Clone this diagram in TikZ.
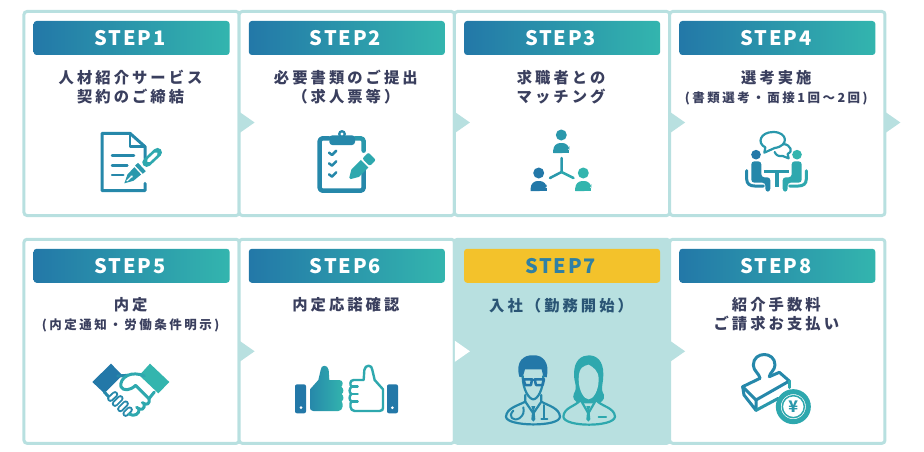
\documentclass[tikz,border=0pt]{standalone}
\usepackage{fontspec}
\setmainfont{Noto Sans CJK JP}
\newfontfamily\jpfont[LetterSpace=20]{Noto Sans CJK JP}
\newfontfamily\stepfont[LetterSpace=9]{Noto Sans CJK JP}
\usepackage{xcolor}
\usetikzlibrary{positioning,shapes.geometric}

\definecolor{cardline}{HTML}{B8E0E0}
\definecolor{labelink}{HTML}{3A3F5E}
\definecolor{sevenink}{HTML}{2A5575}
\definecolor{sevenbar}{HTML}{F3C22B}
\definecolor{sevenstep}{HTML}{2F80A4}
\definecolor{gA}{HTML}{2378A8}
\definecolor{gB}{HTML}{2688AA}
\definecolor{gC}{HTML}{2A98AC}
\definecolor{gD}{HTML}{2EA8AE}
\definecolor{gE}{HTML}{33B5AE}

\tikzset{
    card/.style={draw=cardline, line width=3pt, fill=white, rounded corners=3pt, outer sep=0pt,
        minimum width=215.25pt, minimum height=204pt, inner sep=0pt},
    stepbar/.style={rounded corners=3pt, minimum width=196pt, minimum height=34pt, inner sep=0pt, outer sep=0pt,
        left color=gA, right color=gE, text=white, font=\stepfont\fontsize{20}{20}\selectfont\bfseries,
        execute at begin node=\hspace*{-3pt}},
    steplabel/.style={align=center, inner sep=0pt, outer sep=0pt, text=labelink, xshift=-1pt,
        font=\jpfont\fontsize{15.3}{19}\selectfont\bfseries},
    pointer/.style={isosceles triangle, isosceles triangle apex angle=70, fill=cardline, inner sep=0pt, outer sep=0pt,
        minimum height=15pt, minimum width=21pt, isosceles triangle stretches, anchor=lower side},
    ic/.style={line width=#1, line cap=round, line join=round},
    finger/.style={line width=6.4pt, line cap=round, gB},
    fingerhole/.style={line width=2.6pt, line cap=round, white},
    person/.pic={
        \fill (0,0) circle (5.5);
        \fill[rounded corners=7] (-8,18) -- (-8,8) -- (8,8) -- (8,18) [sharp corners] -- cycle;
        \fill (-8,15) rectangle (8,18);
    }
}
\newcommand{\smalljp}{\fontsize{12.5}{19}\selectfont}
\newcommand{\thumbpath}{(60,100) -- (85,72) -- (92,42) .. controls (92,25) and (114,25) .. (116,42) -- (118,72) -- (148,72)
    .. controls (160,72) and (160,88) .. (154,92) .. controls (162,98) and (162,110) .. (155,114)
    .. controls (162,120) and (162,132) .. (155,136) .. controls (160,142) and (160,165) .. (145,165) -- (70,165)
    .. controls (62,165) and (60,160) .. (60,155) -- cycle}

\begin{document}
\begin{tikzpicture}[x=1pt, y=-1pt]
    \useasboundingbox (0,0) rectangle (924,452);

    % cards, first row
    \node[card] (card1) at (131.6,113.5) {};
    \node[card, right=0pt of card1] (card2) {};
    \node[card, right=0pt of card2] (card3) {};
    \node[card, right=0pt of card3] (card4) {};
    % cards, second row
    \node[card] (card5) at (131.6,341.3) {};
    \node[card, right=0pt of card5] (card6) {};
    \node[card, fill=cardline, right=0pt of card6] (card7) {};
    \node[card, right=0pt of card7] (card8) {};

    \node[stepbar, below=9.5pt of card1.north] (bar1) {STEP1};
    \node[stepbar, below=9.5pt of card2.north] (bar2) {STEP2};
    \node[stepbar, below=9.5pt of card3.north] (bar3) {STEP3};
    \node[stepbar, below=9.5pt of card4.north] (bar4) {STEP4};
    \node[stepbar, below=9.5pt of card5.north] (bar5) {STEP5};
    \node[stepbar, below=9.5pt of card6.north] (bar6) {STEP6};
    \node[stepbar, below=9.5pt of card7.north, left color=sevenbar, right color=sevenbar, text=sevenstep] (bar7) {STEP7};
    \node[stepbar, below=9.5pt of card8.north] (bar8) {STEP8};

    \node[steplabel, below=15pt of bar1] (label1) {人材紹介サービス\\契約のご締結};
    \node[steplabel, below=15pt of bar2] (label2) {必要書類のご提出\\（求人票等）};
    \node[steplabel, below=15pt of bar3] (label3) {求職者との\\マッチング};
    \node[steplabel, below=15pt of bar4] (label4) {選考実施\\{\smalljp (書類選考・面接1回～2回)}};
    \node[steplabel, below=15pt of bar5] (label5) {内定\\{\smalljp (内定通知・労働条件明示)}};
    \node[steplabel, below=15pt of bar6] (label6) {内定応諾確認};
    \node[steplabel, below=15pt of bar7, text=sevenink] (label7) {入社（勤務開始）};
    \node[steplabel, below=15pt of bar8] (label8) {紹介手数料\\ご請求お支払い};

    \node[pointer] (pointer1) at (239.6,122.5) {};
    \node[pointer] (pointer2) at (454.9,122.5) {};
    \node[pointer] (pointer3) at (670.1,122.5) {};
    \node[pointer] (pointer4) at (885.4,122.5) {};
    \node[pointer] (pointer5) at (239.6,351.3) {};
    \node[pointer, fill=white] (pointer6) at (454.9,351.3) {};
    \node[pointer] (pointer7) at (670.1,351.3) {};

    % document and pen
    \begin{scope}[shift={(90,120)}, scale=1/3]
        \draw[ic=3pt, gB] (165,115) -- (165,80) -- (120,40) -- (36,40) -- (36,212) -- (165,212) -- (165,190);
        \draw[ic=2.5pt, gB] (120,42) -- (120,80) -- (165,80);
        \draw[ic=2.5pt, gB] (66,107) -- (132,107);
        \draw[ic=2.5pt, gB] (66,137) -- (112,137);
        \draw[ic=2.5pt, gB] (66,165) -- (100,165);
        \begin{scope}[shift={(103,190)}, rotate=43]
            \fill[gC] (0,0) -- (25,-13) -- (55,-15) -- (55,15) -- (25,13) -- cycle;
            \draw[white, line width=1.2pt] (10,0) -- (30,0);
            \fill[white] (30,0) circle (4);
            \fill[gC] (60,-17) rectangle (72,17);
            \draw[ic=9pt, gD] (92,0) -- (136,0);
            \draw[ic=3.5pt, white] (100,0) -- (130,0);
        \end{scope}
    \end{scope}

    % clipboard and pencil
    \begin{scope}[shift={(305,120)}, scale=1/3]
        \draw[ic=4.5pt, gB, rounded corners=3pt] (72,55) -- (44,55) -- (44,212) -- (176,212) -- (176,150);
        \draw[ic=4.5pt, gC, rounded corners=3pt] (150,55) -- (176,55) -- (176,92);
        \fill[gB, rounded corners=3pt] (73,46) rectangle (150,75);
        \fill[gB] (111,42) circle (12);
        \fill[white] (111,42) circle (5);
        \draw[ic=2.5pt, gB] (72,98) -- (81,105) -- (94,92);
        \draw[ic=2.5pt, gB] (72,130) -- (81,137) -- (94,124);
        \draw[ic=2.5pt, gB] (72,163) -- (81,170) -- (94,157);
        \begin{scope}[shift={(135,175)}, rotate=45]
            \fill[gD] (0,-3) -- (22,-16) -- (62,-16) -- (62,16) -- (22,16) -- (0,3) -- cycle;
            \fill[gD, rounded corners=2pt] (68,-16) -- (94,-16) -- (94,16) -- (68,16) -- cycle;
        \end{scope}
    \end{scope}

    % three people
    \pic[color=gC] (top) at (561.3,135) {person};
    \pic[color=gA] (left) at (538.7,173) {person};
    \pic[color=gE] (right) at (583.3,173) {person};
    \draw[ic=2.5pt, gC] (561.5,158) -- (561.5,172) -- (550,178);
    \draw[ic=2.5pt, gD] (561.5,172) -- (573.5,178);

    % two people talking
    \begin{scope}[shift={(736,124)}, scale=1/3]
        \draw[ic=2.2pt, gC] (85,86) -- (88,70) .. controls (62,58) and (72,24) .. (112,24)
            .. controls (155,24) and (160,66) .. (116,72) -- cycle;
        \draw[ic=2.2pt, gC] (142,60) .. controls (165,62) and (172,85) .. (155,90) -- (158,103) -- (140,96)
            .. controls (128,98) and (120,94) .. (116,84);
        \fill[gA] (60,92) circle (14.5);
        \fill[gE] (183,92) circle (14.5);
        \fill[gB, rounded corners=3pt] (46,112) -- (76,112) -- (76,160) -- (103,160) -- (103,203) -- (88,203)
            -- (88,176) -- (46,176) -- cycle;
        \fill[gD, rounded corners=3pt] (197,112) -- (167,112) -- (167,160) -- (140,160) -- (140,203) -- (155,203)
            -- (155,176) -- (197,176) -- cycle;
        \draw[ic=3pt, gB] (32,140) -- (32,165) .. controls (32,180) and (42,186) .. (56,186) -- (82,186);
        \draw[ic=3pt, gD] (211,140) -- (211,165) .. controls (211,180) and (201,186) .. (187,186) -- (161,186);
        \fill[gC] (84,137) rectangle (160,148);
        \fill[gC] (116,148) rectangle (128,190);
    \end{scope}

    % handshake
    \begin{scope}[shift={(85,352)}, scale=1/3]
        \fill[gA] (22,90) -- (78,35) -- (112,70) -- (58,124) -- cycle;
        \fill[gE] (253,90) -- (195,35) -- (163,70) -- (220,124) -- cycle;
        \draw[ic=3pt, gB] (98,72) -- (128,70);
        \draw[ic=3pt, gB] (58,120) -- (76,140);
        \draw[ic=3pt, gD] (178,72) .. controls (160,64) and (142,64) .. (128,70) .. controls (112,78) and (105,92) .. (108,104)
            .. controls (115,118) and (135,116) .. (152,100) -- (192,140) -- (208,120);
        \draw[finger] (76,140) -- (90,127);
        \draw[fingerhole] (76,140) -- (90,127);
        \draw[finger] (90,155) -- (106,139);
        \draw[fingerhole] (90,155) -- (106,139);
        \draw[finger] (106,171) -- (122,155);
        \draw[fingerhole] (106,171) -- (122,155);
        \draw[finger] (122,185) -- (134,173);
        \draw[fingerhole] (122,185) -- (134,173);
        \draw[ic=3pt, gD] (192,140) .. controls (196,155) and (186,162) .. (172,152);
        \draw[ic=3pt, gD] (178,155) .. controls (180,172) and (168,178) .. (155,166);
        \draw[ic=3pt, gD] (162,170) .. controls (165,185) and (148,196) .. (132,186);
    \end{scope}

    % thumbs
    \begin{scope}[shift={(290,356)}, scale=1/3]
        \fill[gA, rounded corners=2pt] (15,85) rectangle (48,172);
        \fill[white] (33,155) circle (4.5);
        \fill[gA, rounded corners=2pt] (291,85) rectangle (324,172);
        \fill[white] (307,155) circle (4.5);
        \shade[left color=gB, right color=gE] \thumbpath;
    \end{scope}
    \begin{scope}[shift={(403,356)}, xscale=-1/3, yscale=1/3]
        \draw[ic=2.4pt, gD] \thumbpath;
        \draw[ic=2.4pt, gD] (154,92) -- (136,92) (155,114) -- (136,114) (155,136) -- (136,136);
    \end{scope}

    % man and woman
    \begin{scope}[shift={(500,350)}, scale=1/3]
        \fill[gA] (58,80) .. controls (46,35) and (70,14) .. (100,16) .. controls (130,14) and (150,40) .. (140,82)
            -- (130,80) -- (125,58) -- (75,58) -- (68,82) -- cycle;
        \draw[ic=2.2pt, gB] (68,78) .. controls (68,120) and (88,148) .. (100,148) .. controls (112,148) and (130,120) .. (130,78);
        \draw[ic=2.5pt, gA] (70,88) -- (96,88) -- (93,105) -- (76,105) -- cycle;
        \draw[ic=2.5pt, gA] (104,88) -- (132,88) -- (128,105) -- (108,105) -- cycle;
        \draw[ic=2.5pt, gA] (96,90) -- (104,90);
        \draw[ic=2.2pt, gB] (76,135) -- (76,155) .. controls (50,168) and (20,175) .. (18,200)
            .. controls (18,230) and (180,232) .. (180,200) .. controls (178,175) and (148,168) .. (124,155) -- (124,135);
        \draw[ic=2.2pt, gB] (76,155) -- (100,190) -- (124,155);
        \fill[gB] (94,168) -- (106,168) -- (103,178) -- (106,208) -- (100,215) -- (94,208) -- (97,178) -- cycle;
        \draw[ic=2pt, gB] (40,182) .. controls (22,200) and (40,215) .. (58,205) .. controls (72,195) and (72,185) .. (70,172);
        \draw[ic=2pt, gB] (133,165) -- (133,205) (124,206) -- (142,206);
        \fill[gD] (222,72) .. controls (222,30) and (245,16) .. (266,16) .. controls (290,16) and (310,32) .. (310,72)
            .. controls (310,105) and (300,115) .. (312,135) .. controls (316,150) and (300,160) .. (292,160) -- (238,160)
            .. controls (225,155) and (215,145) .. (222,130) .. controls (234,110) and (222,100) .. (222,72) -- cycle;
        \fill[cardline] (236,88) .. controls (236,50) and (252,48) .. (266,44) .. controls (280,52) and (296,62) .. (296,88)
            .. controls (296,125) and (278,148) .. (266,148) .. controls (254,148) and (236,125) .. (236,88) -- cycle;
        \draw[ic=2.2pt, gD, fill=cardline] (242,150) .. controls (225,170) and (192,172) .. (190,200)
            .. controls (192,232) and (342,232) .. (345,200) .. controls (343,172) and (305,170) .. (288,150)
            -- (265,190) -- cycle;
        \fill[gD] (259,168) -- (271,168) -- (268,178) -- (271,208) -- (265,215) -- (259,208) -- (262,178) -- cycle;
        \draw[ic=2.2pt, gD] (296,202) -- (318,202);
    \end{scope}

    % stamp and coin
    \begin{scope}[shift={(730,345)}, scale=1/3]
        \draw[ic=3pt, gB] (90,100) .. controls (88,85) and (70,78) .. (70,60) .. controls (70,18) and (135,18) .. (135,60)
            .. controls (135,75) and (118,85) .. (118,95);
        \draw[ic=3pt, gB] (90,100) -- (38,125) -- (78,165) -- (178,108) -- (148,82) -- (118,95);
        \draw[ic=3pt, gB] (38,125) -- (42,150) -- (78,196) -- (78,165);
        \draw[ic=3pt, gC] (78,196) -- (145,160);
        \draw[ic=3pt, gD] (178,108) -- (178,128);
        \draw[gD, line width=5pt, fill=white] (190,185) circle (45);
        \draw[gD, line width=1.5pt] (190,185) circle (33);
        \node[text=gC, font=\fontsize{16}{16}\selectfont\bfseries, inner sep=0pt] (yen) at (190,185) {¥};
    \end{scope}
\end{tikzpicture}
\end{document}
